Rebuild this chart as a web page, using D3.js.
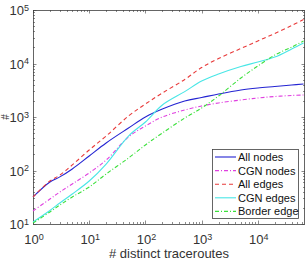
<!DOCTYPE html>
<html>
<head>
<meta charset="utf-8">
<script src="https://cdn.jsdelivr.net/npm/d3@7"></script>
<style>
  body { margin: 0; background: #fff; }
  svg { display: block; }
</style>
</head>
<body>
<svg id="chart"></svg>
<script>
var traceroutes = [1, 2, 3, 5, 10, 20, 50, 100, 200, 500, 1000, 2000, 5000, 10000, 20000, 40000, 65000];

var allNodes    = [32, 61, 76, 107, 187, 327, 622, 1000, 1410, 1995, 2310, 2690, 3200, 3490, 3715, 3960, 4140];
var cgnNodes    = [17.5, 29.3, 39.6, 56, 90, 157, 423, 679, 1000, 1352, 1607, 1830, 2080, 2265, 2418, 2524, 2580];
var allEdges    = [32, 63.6, 82, 127, 242, 441, 1045, 1750, 2810, 5020, 8410, 12400, 19100, 26400, 36400, 51300, 66400];
var cgnEdges    = [10.9, 17.9, 24.7, 36.4, 63.6, 132, 441, 807, 1675, 2980, 4710, 6370, 8790, 10660, 13200, 18700, 24200];
var borderEdges = [10.4, 16.8, 22.6, 32, 49.2, 86, 171, 300, 502, 957, 1473, 2470, 5360, 8980, 14400, 20300, 26400];

var seriesNames = ["All nodes", "CGN nodes", "All edges", "CGN edges", "Border edge"];
var xTicks = [1, 10, 100, 1000, 10000];
var yTicks = [10, 100, 1000, 10000, 100000];

var w = 306, h = 260;
var margin = { left: 33, right: 1, top: 10, bottom: 36 };
var axisColor = "#404040";
var font = "'Liberation Sans', Arial, sans-serif";

var styles = [
    { color: "#2424d2", dash: null },
    { color: "#e040e0", dash: "4,2,1,2" },
    { color: "#e83a3a", dash: "4,3" },
    { color: "#48e6e6", dash: null },
    { color: "#3ce03c", dash: "4,2,1,2" }
];

var svg = d3.select("#chart").attr("width", w).attr("height", h);

var x = d3.scaleLog().domain([1, 69000]).range([margin.left, w - margin.right]);
var y = d3.scaleLog().domain([10, 100000]).range([h - margin.bottom, margin.top]);

function minorTicks(lo, hi) {
    var out = [];
    for (var p = Math.floor(Math.log10(lo)); p <= Math.ceil(Math.log10(hi)); p++) {
        for (var k = 1; k < 10; k++) {
            var v = k * Math.pow(10, p);
            if (v >= lo && v <= hi) out.push(v);
        }
    }
    return out;
}

function powLabel(sel, v) {
    sel.text("10");
    sel.append("tspan")
        .attr("dy", "-0.5em")
        .style("font-size", "9px")
        .text(Math.round(Math.log10(v)));
}

function drawAxes() {
    var x0 = x.range()[0], x1 = x.range()[1], y0 = y.range()[0], y1 = y.range()[1];
    var g = svg.append("g").attr("stroke", axisColor).attr("stroke-width", 0.6);

    minorTicks(1, 69000).forEach(function(v) {
        var len = xTicks.indexOf(v) >= 0 ? 3.5 : 2;
        var px = Math.round(x(v)) + 0.5;
        g.append("line").attr("x1", px).attr("x2", px).attr("y1", y0).attr("y2", y0 - len);
        g.append("line").attr("x1", px).attr("x2", px).attr("y1", y1).attr("y2", y1 + len);
    });
    minorTicks(10, 100000).forEach(function(v) {
        var len = yTicks.indexOf(v) >= 0 ? 3.5 : 2;
        var py = Math.round(y(v)) + 0.5;
        g.append("line").attr("y1", py).attr("y2", py).attr("x1", x0).attr("x2", x0 + len);
        g.append("line").attr("y1", py).attr("y2", py).attr("x1", x1).attr("x2", x1 - len);
    });

    svg.append("rect")
        .attr("x", x0 + 0.5).attr("y", y1 + 0.5)
        .attr("width", x1 - x0 - 1).attr("height", y0 - y1)
        .attr("fill", "none").attr("stroke", axisColor).attr("stroke-width", 0.8);

    xTicks.forEach(function(v) {
        svg.append("text")
            .attr("x", x(v) + 1).attr("y", y0 + 20)
            .attr("text-anchor", "middle")
            .attr("font-family", font).attr("font-size", "13px").attr("fill", "#333")
            .call(powLabel, v);
    });
    yTicks.forEach(function(v) {
        svg.append("text")
            .attr("x", x0 - 4).attr("y", y(v) + 5)
            .attr("text-anchor", "end")
            .attr("font-family", font).attr("font-size", "13px").attr("fill", "#333")
            .call(powLabel, v);
    });

    svg.append("text")
        .attr("x", (x0 + x1) / 2).attr("y", h - 2)
        .attr("text-anchor", "middle")
        .attr("font-family", font).attr("font-size", "13px").attr("fill", "#333")
        .text("# distinct traceroutes");
    svg.append("text")
        .attr("transform", "translate(8.5," + y(1000) + ") rotate(-90)")
        .attr("text-anchor", "middle")
        .attr("font-family", font).attr("font-size", "10px").attr("fill", "#333")
        .text("#");
}

function drawLines() {
    var all = [allNodes, cgnNodes, allEdges, cgnEdges, borderEdges];
    var line = d3.line()
        .x(function(d) { return x(d[0]); })
        .y(function(d) { return y(d[1]); })
        .curve(d3.curveCatmullRom.alpha(0.5));
    all.forEach(function(vals, i) {
        var pts = traceroutes.map(function(t, j) { return [t, vals[j]]; });
        svg.append("path")
            .datum(pts)
            .attr("d", line)
            .attr("fill", "none")
            .attr("stroke", styles[i].color)
            .attr("stroke-width", 1.1)
            .attr("stroke-dasharray", styles[i].dash);
    });
}

function drawLegend() {
    var lx = 212, ly = 149, lw = 86, lh = 69;
    svg.append("rect")
        .attr("x", lx + 0.5).attr("y", ly + 0.5)
        .attr("width", lw).attr("height", lh)
        .attr("fill", "#fff").attr("stroke", axisColor).attr("stroke-width", 0.8);
    seriesNames.forEach(function(name, i) {
        var ry = ly + 8 + i * 13.6;
        svg.append("line")
            .attr("x1", lx + 3).attr("x2", lx + 24)
            .attr("y1", ry).attr("y2", ry)
            .attr("stroke", styles[i].color).attr("stroke-width", 1.1)
            .attr("stroke-dasharray", styles[i].dash);
        svg.append("text")
            .attr("x", lx + 26).attr("y", ry + 4)
            .attr("font-family", font).attr("font-size", "11px").attr("fill", "#111")
            .text(name);
    });
}

drawAxes();
drawLines();
drawLegend();
</script>
</body>
</html>
